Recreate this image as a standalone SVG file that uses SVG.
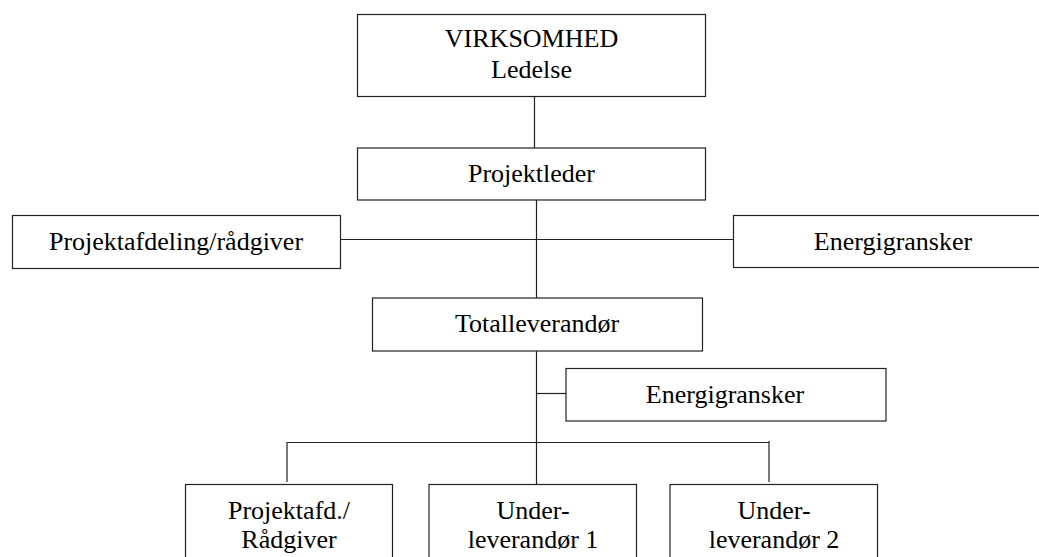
<svg xmlns="http://www.w3.org/2000/svg" width="1039" height="557" viewBox="0 0 1039 557">
<style>
.box{fill:#fff;stroke:#222;stroke-width:1.2}
.t{font-family:"Liberation Serif","Times New Roman",serif;font-size:26px;fill:#000;text-anchor:middle}
.c{stroke:#222;stroke-width:1.2;fill:none}
</style>
<rect width="1039" height="557" fill="#fff"/>
<g id="connectors">
<line class="c" x1="534.5" y1="96" x2="534.5" y2="148"/>
<line class="c" x1="536.5" y1="200" x2="536.5" y2="298"/>
<line class="c" x1="341" y1="239.5" x2="733" y2="239.5"/>
<line class="c" x1="536.5" y1="351" x2="536.5" y2="484"/>
<line class="c" x1="536.5" y1="393.5" x2="566" y2="393.5"/>
<line class="c" x1="287" y1="442.5" x2="769" y2="442.5"/>
<line class="c" x1="287" y1="442" x2="287" y2="482"/>
<line class="c" x1="769" y1="441" x2="769" y2="482"/>
</g>
<g id="n-virksomhed">
<rect class="box" x="357.5" y="14.5" width="348" height="82"/>
<text class="t" x="531.5" y="47">VIRKSOMHED</text>
<text class="t" x="531.5" y="78">Ledelse</text>
</g>
<g id="n-projektleder">
<rect class="box" x="357.5" y="148" width="348" height="52"/>
<text class="t" x="531.5" y="182">Projektleder</text>
</g>
<g id="n-projektafdeling">
<rect class="box" x="12.5" y="215.5" width="328" height="53"/>
<text class="t" x="176" y="250">Projektafdeling/rådgiver</text>
</g>
<g id="n-energigransker1">
<rect class="box" x="733.5" y="215.5" width="310" height="52"/>
<text class="t" x="893" y="250">Energigransker</text>
</g>
<g id="n-totalleverandor">
<rect class="box" x="372.5" y="298" width="330" height="53"/>
<text class="t" x="537" y="332">Totalleverandør</text>
</g>
<g id="n-energigransker2">
<rect class="box" x="566" y="368.5" width="320" height="52.5"/>
<text class="t" x="725" y="403">Energigransker</text>
</g>
<g id="n-projektafd">
<rect class="box" x="185.5" y="484.5" width="207" height="90"/>
<text class="t" x="289" y="519">Projektafd./</text>
<text class="t" x="289" y="548">Rådgiver</text>
</g>
<g id="n-under1">
<rect class="box" x="429" y="484.5" width="207.5" height="90"/>
<text class="t" x="533" y="519">Under-</text>
<text class="t" x="533" y="548">leverandør 1</text>
</g>
<g id="n-under2">
<rect class="box" x="670" y="484.5" width="207.5" height="90"/>
<text class="t" x="774" y="519">Under-</text>
<text class="t" x="774" y="548">leverandør 2</text>
</g>
</svg>
